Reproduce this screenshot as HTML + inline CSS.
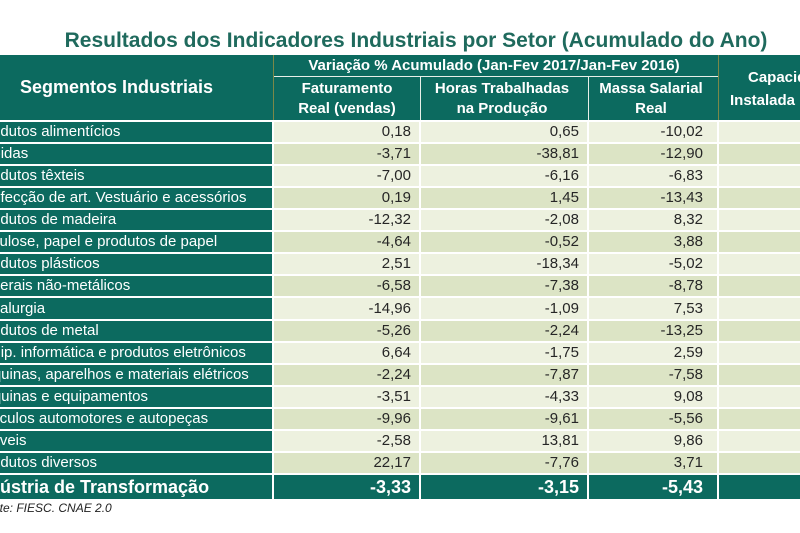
<!DOCTYPE html>
<html><head><meta charset="utf-8">
<style>
html,body{margin:0;padding:0;background:#fff;}
body{width:800px;height:533px;position:relative;overflow:hidden;font-family:"Liberation Sans",Arial,sans-serif;}
.a{position:absolute;white-space:nowrap;}
.t{color:#1f6a5d;font-weight:bold;font-size:21px;line-height:21px;}
.hd{background:#0c6a5f;}
.h{color:#fff;font-weight:bold;font-size:15px;line-height:18px;text-align:center;}
.row{position:absolute;left:0;width:800px;}
.row div{position:absolute;top:0;height:100%;overflow:hidden;white-space:nowrap;}
.lab{left:0;width:272px;background:#0c6a5f;color:#fff;font-size:15px;}
.v{color:#262626;font-size:15px;text-align:right;}
.f{left:274px;width:137px;padding-right:8px;}
.hr{left:421px;width:158px;padding-right:8px;}
.m{left:589px;width:114px;padding-right:14px;}
.cp{left:719px;width:81px;}
.L .f,.L .hr,.L .m,.L .cp{background:#edf1df;}
.D .f,.D .hr,.D .m,.D .cp{background:#dce4c5;}
.tot div{background:#0c6a5f;color:#fff;font-weight:bold;font-size:18px;}
</style></head><body>
<div class="a t" style="left:0;width:832px;top:30px;text-align:center;">Resultados dos Indicadores Industriais por Setor (Acumulado do Ano)</div>

<div class="a hd" style="left:0;top:55px;width:800px;height:65px;"></div>
<div class="a" style="left:273px;top:55px;width:1px;height:65px;background:#7a8848;"></div>
<div class="a" style="left:718px;top:55px;width:1px;height:65px;background:#7a8848;"></div>
<div class="a" style="left:274px;top:76px;width:444px;height:1px;background:#e8efe8;"></div>
<div class="a" style="left:420px;top:77px;width:1px;height:43px;background:#e8efe8;"></div>
<div class="a" style="left:588px;top:77px;width:1px;height:43px;background:#e8efe8;"></div>

<div class="a h" style="left:0;width:233px;top:77px;font-size:18px;line-height:20px;">Segmentos Industriais</div>
<div class="a h" style="left:274px;width:440px;top:57px;">Variação % Acumulado (Jan-Fev 2017/Jan-Fev 2016)</div>
<div class="a h" style="left:274px;width:146px;top:79px;line-height:20px;">Faturamento<br>Real (vendas)</div>
<div class="a h" style="left:421px;width:162px;top:79px;line-height:20px;">Horas Trabalhadas<br>na Produção</div>
<div class="a h" style="left:589px;width:124px;top:79px;line-height:20px;">Massa Salarial<br>Real</div>
<div class="a h" style="left:748px;top:69px;text-align:left;">Capacidade</div>
<div class="a h" style="left:730px;top:92px;text-align:left;">Instalada</div>

<div class="row L" style="top:122px;height:20px;line-height:20px;"><div class="lab" style="text-indent:-23px">Produtos alimentícios</div><div class="v f">0,18</div><div class="v hr">0,65</div><div class="v m">-10,02</div><div class="cp"></div></div>
<div class="row D" style="top:144px;height:20px;line-height:20px;"><div class="lab" style="text-indent:-26px">Bebidas</div><div class="v f">-3,71</div><div class="v hr">-38,81</div><div class="v m">-12,90</div><div class="cp"></div></div>
<div class="row L" style="top:166px;height:20px;line-height:20px;"><div class="lab" style="text-indent:-23px">Produtos têxteis</div><div class="v f">-7,00</div><div class="v hr">-6,16</div><div class="v m">-6,83</div><div class="cp"></div></div>
<div class="row D" style="top:188px;height:20px;line-height:20px;"><div class="lab" style="text-indent:-27px">Confecção de art. Vestuário e acessórios</div><div class="v f">0,19</div><div class="v hr">1,45</div><div class="v m">-13,43</div><div class="cp"></div></div>
<div class="row L" style="top:210px;height:20px;line-height:20px;"><div class="lab" style="text-indent:-23px">Produtos de madeira</div><div class="v f">-12,32</div><div class="v hr">-2,08</div><div class="v m">8,32</div><div class="cp"></div></div>
<div class="row D" style="top:232px;height:20px;line-height:20px;"><div class="lab" style="text-indent:-23px">Celulose, papel e produtos de papel</div><div class="v f">-4,64</div><div class="v hr">-0,52</div><div class="v m">3,88</div><div class="cp"></div></div>
<div class="row L" style="top:254px;height:20px;line-height:20px;"><div class="lab" style="text-indent:-23px">Produtos plásticos</div><div class="v f">2,51</div><div class="v hr">-18,34</div><div class="v m">-5,02</div><div class="cp"></div></div>
<div class="row D" style="top:276px;height:20px;line-height:20px;"><div class="lab" style="text-indent:-24px">Minerais não-metálicos</div><div class="v f">-6,58</div><div class="v hr">-7,38</div><div class="v m">-8,78</div><div class="cp"></div></div>
<div class="row L" style="top:298px;height:21px;line-height:21px;"><div class="lab" style="text-indent:-25px">Metalurgia</div><div class="v f">-14,96</div><div class="v hr">-1,09</div><div class="v m">7,53</div><div class="cp"></div></div>
<div class="row D" style="top:321px;height:20px;line-height:20px;"><div class="lab" style="text-indent:-23px">Produtos de metal</div><div class="v f">-5,26</div><div class="v hr">-2,24</div><div class="v m">-13,25</div><div class="cp"></div></div>
<div class="row L" style="top:343px;height:20px;line-height:20px;"><div class="lab" style="text-indent:-26px">Equip. informática e produtos eletrônicos</div><div class="v f">6,64</div><div class="v hr">-1,75</div><div class="v m">2,59</div><div class="cp"></div></div>
<div class="row D" style="top:365px;height:20px;line-height:20px;"><div class="lab" style="text-indent:-28px">Máquinas, aparelhos e materiais elétricos</div><div class="v f">-2,24</div><div class="v hr">-7,87</div><div class="v m">-7,58</div><div class="cp"></div></div>
<div class="row L" style="top:387px;height:20px;line-height:20px;"><div class="lab" style="text-indent:-28px">Máquinas e equipamentos</div><div class="v f">-3,51</div><div class="v hr">-4,33</div><div class="v m">9,08</div><div class="cp"></div></div>
<div class="row D" style="top:409px;height:20px;line-height:20px;"><div class="lab" style="text-indent:-22px">Veículos automotores e autopeças</div><div class="v f">-9,96</div><div class="v hr">-9,61</div><div class="v m">-5,56</div><div class="cp"></div></div>
<div class="row L" style="top:431px;height:20px;line-height:20px;"><div class="lab" style="text-indent:-21px">Móveis</div><div class="v f">-2,58</div><div class="v hr">13,81</div><div class="v m">9,86</div><div class="cp"></div></div>
<div class="row D" style="top:453px;height:20px;line-height:20px;"><div class="lab" style="text-indent:-23px">Produtos diversos</div><div class="v f">22,17</div><div class="v hr">-7,76</div><div class="v m">3,71</div><div class="cp"></div></div>
<div class="row tot" style="top:475px;height:24px;line-height:24px;"><div style="left:0;width:272px;text-indent:-27px">Indústria de Transformação</div><div class="f" style="text-align:right">-3,33</div><div class="hr" style="text-align:right">-3,15</div><div class="m" style="text-align:right">-5,43</div><div class="cp"></div></div>

<div class="a" style="left:0;top:501px;font-size:12px;line-height:14px;font-style:italic;color:#222;text-indent:-21px;">Fonte: FIESC. CNAE 2.0</div>
</body></html>
